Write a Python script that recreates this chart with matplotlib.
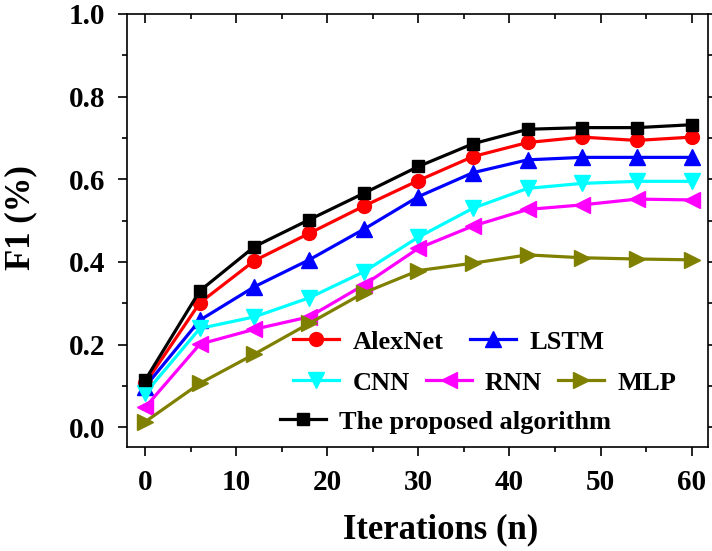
import numpy as np
import matplotlib
matplotlib.use('Agg')
import matplotlib.pyplot as plt
from matplotlib.ticker import MultipleLocator

# iterations and F1 values
iterations = [0, 6, 12, 18, 24, 30, 36, 42, 48, 54, 60]
f1_alexnet = [0.106, 0.301, 0.403, 0.469, 0.535, 0.597, 0.655, 0.689, 0.702, 0.694, 0.702]
f1_lstm = [0.098, 0.259, 0.340, 0.405, 0.479, 0.558, 0.616, 0.647, 0.653, 0.653, 0.653]
f1_cnn = [0.082, 0.239, 0.267, 0.313, 0.376, 0.460, 0.530, 0.578, 0.590, 0.595, 0.595]
f1_rnn = [0.048, 0.201, 0.237, 0.267, 0.344, 0.433, 0.487, 0.527, 0.538, 0.552, 0.550]
f1_mlp = [0.013, 0.106, 0.177, 0.251, 0.325, 0.379, 0.397, 0.417, 0.410, 0.407, 0.405]
f1_proposed = [0.114, 0.330, 0.437, 0.502, 0.566, 0.631, 0.686, 0.721, 0.725, 0.725, 0.732]

plt.rcParams.update({'font.family': 'Liberation Serif', 'font.weight': 'bold'})

fig = plt.figure(figsize=(7.12, 5.51), dpi=100)
ax = fig.add_axes([127/712, 104/551, 581/712, 433/551])

lw = 2.3
h_alex, = ax.plot(iterations, f1_alexnet, color='#ff0000', marker='o', ms=10, lw=lw, label='AlexNet')
h_lstm, = ax.plot(iterations, f1_lstm, color='#0000ff', marker='^', ms=11, lw=lw, label='LSTM')
h_cnn, = ax.plot(iterations, f1_cnn, color='#00ffff', marker='v', ms=11, lw=lw, label='CNN')
h_rnn, = ax.plot(iterations, f1_rnn, color='#ff00ff', marker='<', ms=11, lw=lw, label='RNN')
h_mlp, = ax.plot(iterations, f1_mlp, color='#808000', marker='>', ms=11, lw=lw, label='MLP')
h_prop, = ax.plot(iterations, f1_proposed, color='black', marker='s', ms=8, lw=lw,
                  label='The proposed algorithm')

ax.set_xlim(-2, 61.8)
ax.set_ylim(-0.048, 1.0)
ax.xaxis.set_major_locator(MultipleLocator(10))
ax.xaxis.set_minor_locator(MultipleLocator(5))
ax.yaxis.set_major_locator(MultipleLocator(0.2))
ax.yaxis.set_minor_locator(MultipleLocator(0.1))
ax.yaxis.set_major_formatter(matplotlib.ticker.FormatStrFormatter('%.1f'))

for s in ax.spines.values():
    s.set_linewidth(1.2)

ax.tick_params(which='both', direction='out', width=1.2, labelsize=21, pad=9)
ax.tick_params(which='major', length=6.5)
ax.tick_params(which='minor', length=3.5)
# top ticks point inward, right ticks outward, no labels
ax.tick_params(which='both', top=True, right=True, labeltop=False, labelright=False)
for t in ax.xaxis.get_major_ticks() + ax.xaxis.get_minor_ticks():
    t.tick2line.set_marker(3)

ax.set_xlabel('Iterations (n)', fontsize=25, fontweight='bold')
ax.set_ylabel('F1 (%)', fontsize=25, fontweight='bold')
ax.xaxis.set_label_coords(0.539, -0.152)
ax.yaxis.set_label_coords(-0.155, 0.53)

leg_kw = dict(loc='center left', frameon=False, fontsize=19, borderpad=0, borderaxespad=0,
              handlelength=1.75, handletextpad=0.5)
leg1 = ax.legend(handles=[h_alex, h_lstm], ncol=2, columnspacing=1.0,
                 bbox_to_anchor=(0.286, 0.2425), **leg_kw)
ax.add_artist(leg1)
leg2 = ax.legend(handles=[h_cnn, h_rnn, h_mlp], ncol=3, columnspacing=0.6,
                 bbox_to_anchor=(0.286, 0.148), **leg_kw)
ax.add_artist(leg2)
ax.legend(handles=[h_prop], bbox_to_anchor=(0.263, 0.058), **leg_kw)

fig.savefig('out.png', dpi=100)
